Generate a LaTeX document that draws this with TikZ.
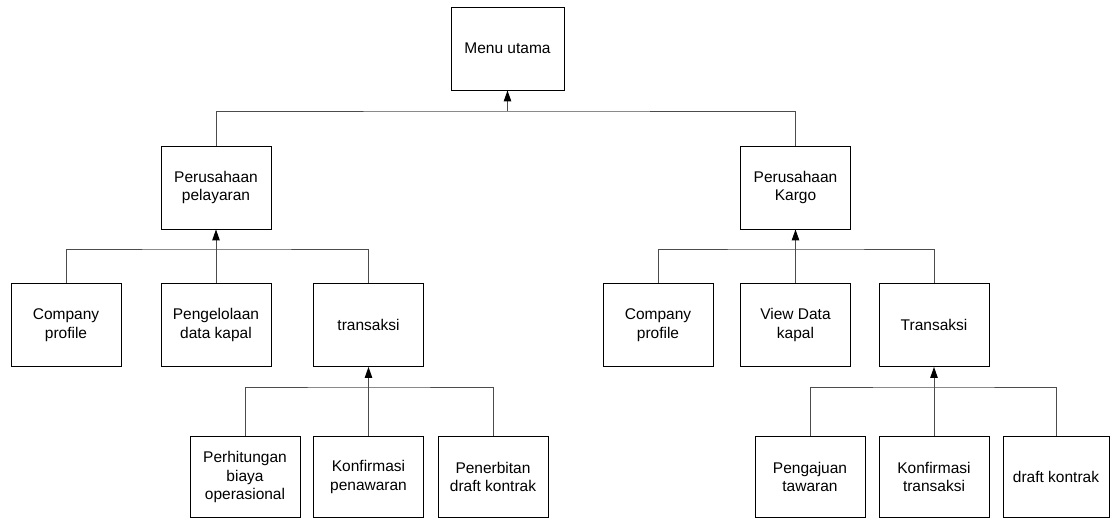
\documentclass[tikz,border=0pt]{standalone}
\usepackage{fontspec}
\setmainfont{Liberation Sans}
\usetikzlibrary{arrows.meta}

\tikzset{
  menubox/.style={draw=black, line width=0.9pt, minimum width=110, minimum height=83,
    inner sep=0pt, align=center, font=\fontsize{15.5}{18.5}\selectfont},
  link/.style={draw=black!70, line width=1pt},
  uparrow/.style={link, -{Triangle[width=7.5pt,length=11pt,color=black,fill=black]}}
}

\begin{document}
\begin{tikzpicture}[x=1pt, y=-1pt]
\useasboundingbox (0,0) rectangle (1111,519);

% menu utama
\node[menubox, minimum width=113] (menu) at (507.5, 48.5) {Menu utama};

% level 1
\node[menubox] (pelayaran) at (216, 187.5) {Perusahaan\\pelayaran};
\node[menubox] (kargo) at (795.5, 187.5) {Perusahaan\\Kargo};

% level 2
\node[menubox] (profilA) at (66, 325) {Company\\profile};
\node[menubox] (kapalA) at (216, 325) {Pengelolaan\\data kapal};
\node[menubox] (transA) at (368.5, 325) {transaksi};
\node[menubox] (profilB) at (658, 325) {Company\\profile};
\node[menubox] (kapalB) at (795.5, 325) {View Data\\kapal};
\node[menubox] (transB) at (934, 325) {Transaksi};

% level 3
\node[menubox, minimum height=81] (biaya) at (245, 477) {Perhitungan\\biaya\\operasional};
\node[menubox, minimum height=81] (tawarA) at (368.5, 477) {Konfirmasi\\penawaran};
\node[menubox, minimum height=81] (draftA) at (493, 477) {Penerbitan\\draft kontrak};
\node[menubox, minimum height=81] (tawarB) at (810, 477) {Pengajuan\\tawaran};
\node[menubox, minimum height=81] (konfB) at (934, 477) {Konfirmasi\\transaksi};
\node[menubox, minimum height=81, minimum width=106] (draftB) at (1056, 477) {draft kontrak};

% busses
\coordinate (bus0) at (507.5, 111);
\coordinate (busA) at (216, 249);
\coordinate (busB) at (795.5, 249);
\coordinate (busC) at (368.5, 387);
\coordinate (busD) at (934, 387);

\draw[link] (pelayaran.north) |- (bus0) -| (kargo.north);
\draw[uparrow] (bus0) -- (menu.south);

\draw[link] (profilA.north) |- (busA) -| (transA.north);
\draw[uparrow] (kapalA.north) -- (pelayaran.south);

\draw[link] (profilB.north) |- (busB) -| (transB.north);
\draw[uparrow] (kapalB.north) -- (kargo.south);

\draw[link] (biaya.north) |- (busC) -| (draftA.north);
\draw[uparrow] (tawarA.north) -- (transA.south);

\draw[link] (tawarB.north) |- (busD) -| (draftB.north);
\draw[uparrow] (konfB.north) -- (transB.south);
\end{tikzpicture}
\end{document}
